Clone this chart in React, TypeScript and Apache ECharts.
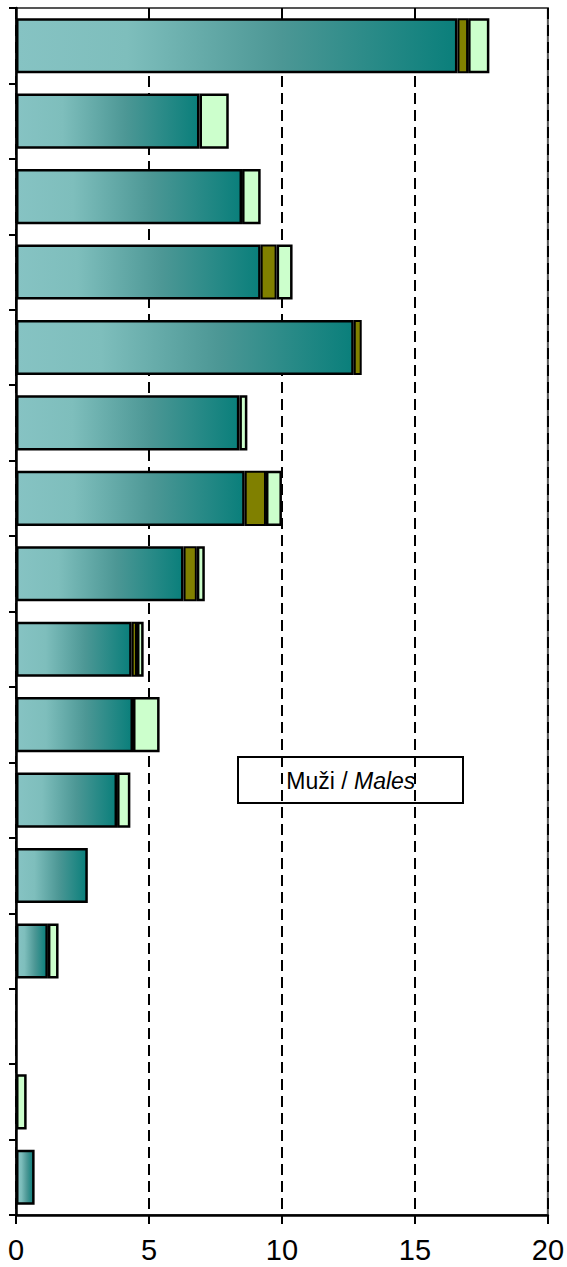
import React, { useEffect, useRef } from "react";
import * as echarts from "echarts";

const categories = ["1", "2", "3", "4", "5", "6", "7", "8", "9", "10", "11", "12", "13", "14", "15", "16"];
const seriesNames = ["A", "B", "C"];
const tealValues = [16.6, 6.9, 8.5, 9.2, 12.7, 8.4, 8.6, 6.3, 4.35, 4.4, 3.8, 2.7, 1.2, null, null, 0.7];
const oliveValues = [0.4, null, null, 0.6, 0.3, null, 0.8, 0.5, 0.2, null, null, null, null, null, null, null];
const greenValues = [0.8, 1.1, 0.7, 0.6, null, 0.3, 0.6, 0.3, 0.25, 1.0, 0.5, null, 0.4, null, 0.4, null];
const xTicks = { min: 0, max: 20, interval: 5 };
const annotation = { normal: "Muži / ", italic: "Males" };

export default function App() {
  const ref = useRef<HTMLDivElement>(null);
  useEffect(() => {
    if (!ref.current) return;
    const chart = echarts.init(ref.current, null, { renderer: "svg" });
    const tealGradient = new echarts.graphic.LinearGradient(0, 0, 1, 0, [
      { offset: 0, color: "#86c3c3" },
      { offset: 0.25, color: "#7ebebc" },
      { offset: 0.6, color: "#4c9795" },
      { offset: 1, color: "#0a7f7b" },
    ]);
    const barBase = {
      type: "bar",
      stack: "total",
      barCategoryGap: "27%",
      itemStyle: { borderColor: "#000", borderWidth: 2.5 },
    };
    const tickFont = "'Liberation Sans Narrow', 'Liberation Sans', Arial, sans-serif";
    const textFont = "'Liberation Sans', Arial, sans-serif";
    chart.setOption({
      animation: false,
      backgroundColor: "#fff",
      grid: {
        left: 16,
        right: 17,
        top: 8,
        bottom: 52,
        show: true,
        borderColor: "#555",
        borderWidth: 2,
        containLabel: false,
      },
      xAxis: {
        type: "value",
        min: xTicks.min,
        max: xTicks.max,
        interval: xTicks.interval,
        axisLine: { show: true, lineStyle: { color: "#000", width: 2.5 } },
        axisTick: { show: true, length: 9, lineStyle: { color: "#000", width: 2 } },
        axisLabel: { color: "#000", fontSize: 29, fontFamily: tickFont, margin: 20 },
        splitLine: { show: true, lineStyle: { color: "#000", width: 2, type: [11, 6] } },
      },
      yAxis: {
        type: "category",
        data: categories,
        inverse: true,
        axisLine: { show: true, lineStyle: { color: "#000", width: 2.5 } },
        axisTick: { show: true, length: 7, lineStyle: { color: "#000", width: 2 } },
        axisLabel: { show: false },
        splitLine: { show: false },
      },
      series: [
        { ...barBase, name: seriesNames[0], data: tealValues, itemStyle: { ...barBase.itemStyle, color: tealGradient } },
        { ...barBase, name: seriesNames[1], data: oliveValues, itemStyle: { ...barBase.itemStyle, color: "#808000", borderWidth: 2 } },
        { ...barBase, name: seriesNames[2], data: greenValues, itemStyle: { ...barBase.itemStyle, color: "#ccffcc" } },
      ],
      graphic: [
        {
          type: "group",
          left: 237,
          top: 756,
          z: 100,
          children: [
            {
              type: "rect",
              shape: { x: 0, y: 0, width: 225, height: 46 },
              style: { fill: "#fff", stroke: "#000", lineWidth: 2 },
            },
            {
              type: "text",
              x: 116,
              y: 24,
              style: {
                text: annotation.normal,
                fontSize: 23,
                fontFamily: textFont,
                fill: "#000",
                align: "right",
                verticalAlign: "middle",
              },
            },
            {
              type: "text",
              x: 116,
              y: 24,
              style: {
                text: annotation.italic,
                fontSize: 23,
                fontStyle: "italic",
                fontFamily: textFont,
                fill: "#000",
                align: "left",
                verticalAlign: "middle",
              },
            },
          ],
        },
      ],
    });
    return () => chart.dispose();
  }, []);
  return (
    <div
      ref={ref}
      style={{ position: "absolute", left: 0, top: 0, width: 567, height: 1267 }}
    />
  );
}
